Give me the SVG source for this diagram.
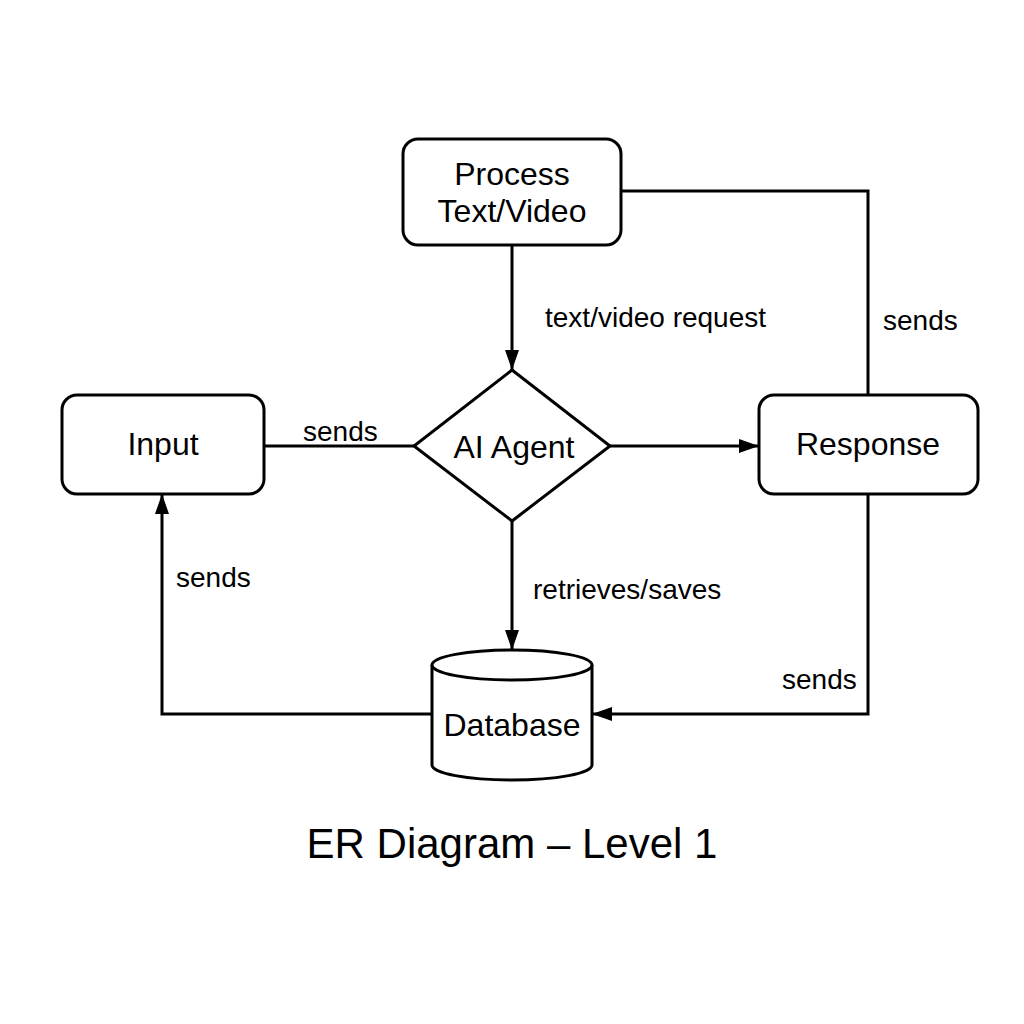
<svg xmlns="http://www.w3.org/2000/svg" width="1024" height="1024" viewBox="0 0 1024 1024">
<style>
.box{fill:#fff;stroke:#000;stroke-width:3}
.ln{fill:none;stroke:#000;stroke-width:3}
.nt{font-family:"Liberation Sans",Arial,sans-serif;font-size:32px;fill:#000;text-anchor:middle}
.el{font-family:"Liberation Sans",Arial,sans-serif;font-size:28px;fill:#000}
.tt{font-family:"Liberation Sans",Arial,sans-serif;font-size:42px;fill:#000;text-anchor:middle}
</style>
<defs>
<marker id="ah" markerWidth="20" markerHeight="14" refX="20" refY="7" orient="auto" markerUnits="userSpaceOnUse">
<path d="M0,0 L20,7 L0,14 Z" fill="#000"/>
</marker>
</defs>
<rect width="1024" height="1024" fill="#fff"/>
<g id="connectors">
<line class="ln" x1="512" y1="245" x2="512" y2="370" marker-end="url(#ah)"/>
<polyline class="ln" points="621,191 868,191 868,395"/>
<line class="ln" x1="264" y1="446" x2="414" y2="446"/>
<line class="ln" x1="610" y1="446" x2="759" y2="446" marker-end="url(#ah)"/>
<line class="ln" x1="512" y1="521" x2="512" y2="650" marker-end="url(#ah)"/>
<polyline class="ln" points="868,494 868,714 592,714" marker-end="url(#ah)"/>
<polyline class="ln" points="432,714 162,714 162,494" marker-end="url(#ah)"/>
<text class="el" x="545" y="327">text/video request</text>
<text class="el" x="883" y="330">sends</text>
<text class="el" x="303" y="441">sends</text>
<text class="el" x="176" y="587">sends</text>
<text class="el" x="533" y="599">retrieves/saves</text>
<text class="el" x="782" y="689">sends</text>
</g>
<g id="process">
<rect class="box" x="403" y="139" width="218" height="106" rx="15"/>
<text class="nt" x="512" y="185">Process</text>
<text class="nt" x="512" y="222">Text/Video</text>
</g>
<g id="input">
<rect class="box" x="62" y="395" width="202" height="99" rx="15"/>
<text class="nt" x="163" y="455">Input</text>
</g>
<g id="agent">
<polygon class="box" points="512,370 610,446 512,521 414,446"/>
<text class="nt" x="514" y="458">AI Agent</text>
</g>
<g id="response">
<rect class="box" x="759" y="395" width="219" height="99" rx="15"/>
<text class="nt" x="868" y="455">Response</text>
</g>
<g id="database">
<path class="box" d="M432,665 L432,765 A80,15 0 0 0 592,765 L592,665"/>
<ellipse class="box" cx="512" cy="665" rx="80" ry="15"/>
<text class="nt" x="512" y="736">Database</text>
</g>
<text class="tt" x="512" y="858">ER Diagram – Level 1</text>
</svg>
